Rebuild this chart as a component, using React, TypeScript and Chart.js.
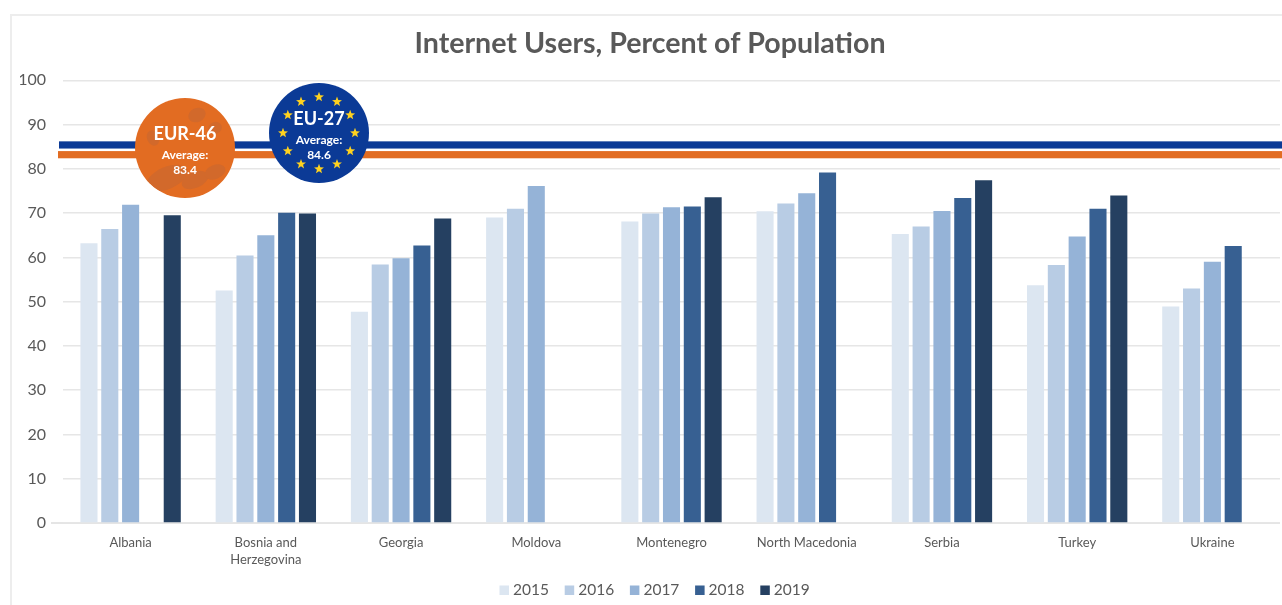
import React, { useEffect, useRef } from "react";
import { Chart, registerables } from "chart.js";

Chart.register(...registerables);

const categories: (string | string[])[] = [
  "Albania",
  ["Bosnia and", "Herzegovina"],
  "Georgia",
  "Moldova",
  "Montenegro",
  "North Macedonia",
  "Serbia",
  "Turkey",
  "Ukraine",
];
const years = ["2015", "2016", "2017", "2018", "2019"];
const values2015 = [63.2, 52.5, 47.7, 69, 68.1, 70.4, 65.3, 53.7, 48.9];
const values2016 = [66.4, 60.4, 58.4, 71, 69.9, 72.2, 67, 58.3, 53];
const values2017 = [71.9, 65, 59.8, 76.1, 71.3, 74.5, 70.5, 64.7, 59];
const values2018 = [null, 70.1, 62.7, null, 71.5, 79.2, 73.4, 71, 62.6];
const values2019 = [69.5, 69.9, 68.8, null, 73.6, null, 77.4, 74, null];
const seriesColors = ["#DCE6F1", "#B8CCE4", "#95B3D7", "#376092", "#254061"];
const allSeries = [values2015, values2016, values2017, values2018, values2019];
const yTicks = [0, 10, 20, 30, 40, 50, 60, 70, 80, 90, 100];

const eu27Line = 85.4;
const eur46Line = 83.2;
const FONT = "Lato, 'Open Sans', sans-serif";
const TEXT = "#595959";
const BLUE = "#0B3A96";
const ORANGE = "#E26C22";

function star(ctx: CanvasRenderingContext2D, x: number, y: number, r: number) {
  ctx.beginPath();
  for (let i = 0; i < 10; i++) {
    const rad = i % 2 === 0 ? r : r * 0.42;
    const a = -Math.PI / 2 + (i * Math.PI) / 5;
    const px = x + rad * Math.cos(a);
    const py = y + rad * Math.sin(a);
    if (i === 0) ctx.moveTo(px, py);
    else ctx.lineTo(px, py);
  }
  ctx.closePath();
  ctx.fill();
}

const decor = {
  id: "decor",
  beforeDraw(chart: any) {
    const { ctx, scales } = chart;
    ctx.save();
    ctx.strokeStyle = "#EDEDED";
    ctx.lineWidth = 2;
    ctx.beginPath();
    ctx.moveTo(11, 605);
    ctx.lineTo(11, 15);
    ctx.lineTo(1282, 15);
    ctx.stroke();
    const y0 = scales.y.getPixelForValue(0);
    ctx.strokeStyle = "#DDDDDD";
    ctx.lineWidth = 1.5;
    ctx.beginPath();
    ctx.moveTo(51, y0);
    ctx.lineTo(1280, y0);
    ctx.stroke();
    ctx.restore();
  },
  afterDatasetsDraw(chart: any) {
    const { ctx, scales } = chart;
    ctx.save();
    const drawBand = (value: number, color: string, x0: number) => {
      const y = scales.y.getPixelForValue(value);
      ctx.fillStyle = "#FFFFFF";
      ctx.fillRect(x0, y - 4.5, 1282 - x0, 9);
      ctx.fillStyle = color;
      ctx.fillRect(x0, y - 3.6, 1282 - x0, 7.2);
    };
    drawBand(eu27Line, BLUE, 59);
    drawBand(eur46Line, ORANGE, 58);

    // EUR-46 badge
    const ox = 185;
    const oy = 148;
    ctx.fillStyle = ORANGE;
    ctx.beginPath();
    ctx.arc(ox, oy, 50, 0, Math.PI * 2);
    ctx.fill();
    ctx.save();
    ctx.beginPath();
    ctx.arc(ox, oy, 50, 0, Math.PI * 2);
    ctx.clip();
    ctx.fillStyle = "#D2692B";
    const blobs: number[][] = [
      [ox + 12, oy - 33, 9, 7],
      [ox - 18, oy + 30, 22, 11],
      [ox + 10, oy + 32, 14, 8],
      [ox + 30, oy + 24, 11, 7],
      [ox - 32, oy - 10, 6, 8],
      [ox + 30, oy - 20, 7, 6],
    ];
    blobs.forEach(([x, y, rx, ry]) => {
      ctx.beginPath();
      ctx.ellipse(x, y, rx, ry, -0.4, 0, Math.PI * 2);
      ctx.fill();
    });
    ctx.restore();
    ctx.fillStyle = "#FFFFFF";
    ctx.textAlign = "center";
    ctx.textBaseline = "middle";
    ctx.font = `bold 18px ${FONT}`;
    ctx.fillText("EUR-46", ox, oy - 14);
    ctx.font = `bold 12px ${FONT}`;
    ctx.fillText("Average:", ox, oy + 7);
    ctx.fillText("83.4", ox, oy + 22);

    // EU-27 badge
    const bx = 319;
    const by = 133;
    ctx.fillStyle = BLUE;
    ctx.beginPath();
    ctx.arc(bx, by, 50, 0, Math.PI * 2);
    ctx.fill();
    ctx.fillStyle = "#FFD21F";
    for (let i = 0; i < 12; i++) {
      const a = (i * Math.PI) / 6;
      star(ctx, bx + 36 * Math.cos(a), by + 36 * Math.sin(a), 5.2);
    }
    ctx.fillStyle = "#FFFFFF";
    ctx.font = `bold 18px ${FONT}`;
    ctx.fillText("EU-27", bx, by - 14);
    ctx.font = `bold 12px ${FONT}`;
    ctx.fillText("Average:", bx, by + 7);
    ctx.fillText("84.6", bx, by + 22);

    // Legend row
    ctx.textAlign = "left";
    ctx.font = `15.5px ${FONT}`;
    years.forEach((year, i) => {
      const x = 499.5 + i * 65.2;
      ctx.fillStyle = seriesColors[i];
      ctx.fillRect(x, 585.5, 9.5, 9.5);
      ctx.fillStyle = TEXT;
      ctx.fillText(year, x + 13.5, 590);
    });
    ctx.restore();
  },
};

export default function App() {
  const ref = useRef<HTMLCanvasElement>(null);
  useEffect(() => {
    const chart = new Chart(ref.current!, {
      type: "bar",
      data: {
        labels: categories as any,
        datasets: years.map((y, i) => ({
          label: y,
          data: allSeries[i] as any,
          backgroundColor: seriesColors[i],
          categoryPercentage: 0.77,
          barPercentage: 0.82,
        })),
      },
      options: {
        responsive: false,
        animation: false,
        layout: { padding: { left: 20, right: 2, top: 16, bottom: 0 } },
        plugins: {
          title: {
            display: true,
            text: "Internet Users, Percent of Population",
            color: TEXT,
            font: { family: FONT, size: 28.6, weight: "bold" },
            padding: { top: 11, bottom: 19 },
          },
          legend: { display: false },
          tooltip: { enabled: false },
        },
        scales: {
          x: {
            grid: { display: false },
            border: { display: false },
            ticks: {
              color: TEXT,
              font: { family: FONT, size: 13, lineHeight: 1.3 },
              maxRotation: 0,
              autoSkip: false,
              padding: 3,
            },
            afterFit(scale: any) {
              scale.height = 82;
            },
          },
          y: {
            min: 0,
            max: 100,
            afterBuildTicks(scale: any) {
              scale.ticks = yTicks.map((v) => ({ value: v }));
            },
            grid: { color: "#E6E6E6", lineWidth: 1.5, drawTicks: false },
            border: { display: false },
            ticks: {
              color: TEXT,
              font: { family: FONT, size: 16 },
              padding: 17,
            },
            afterFit(scale: any) {
              scale.width = 43;
            },
          },
        },
      },
      plugins: [decor],
    } as any);
    return () => chart.destroy();
  }, []);
  return (
    <div style={{ position: "absolute", left: 0, top: 0, width: 1282, height: 605, background: "#fff" }}>
      <canvas ref={ref} width={1282} height={605} style={{ display: "block" }} />
    </div>
  );
}
